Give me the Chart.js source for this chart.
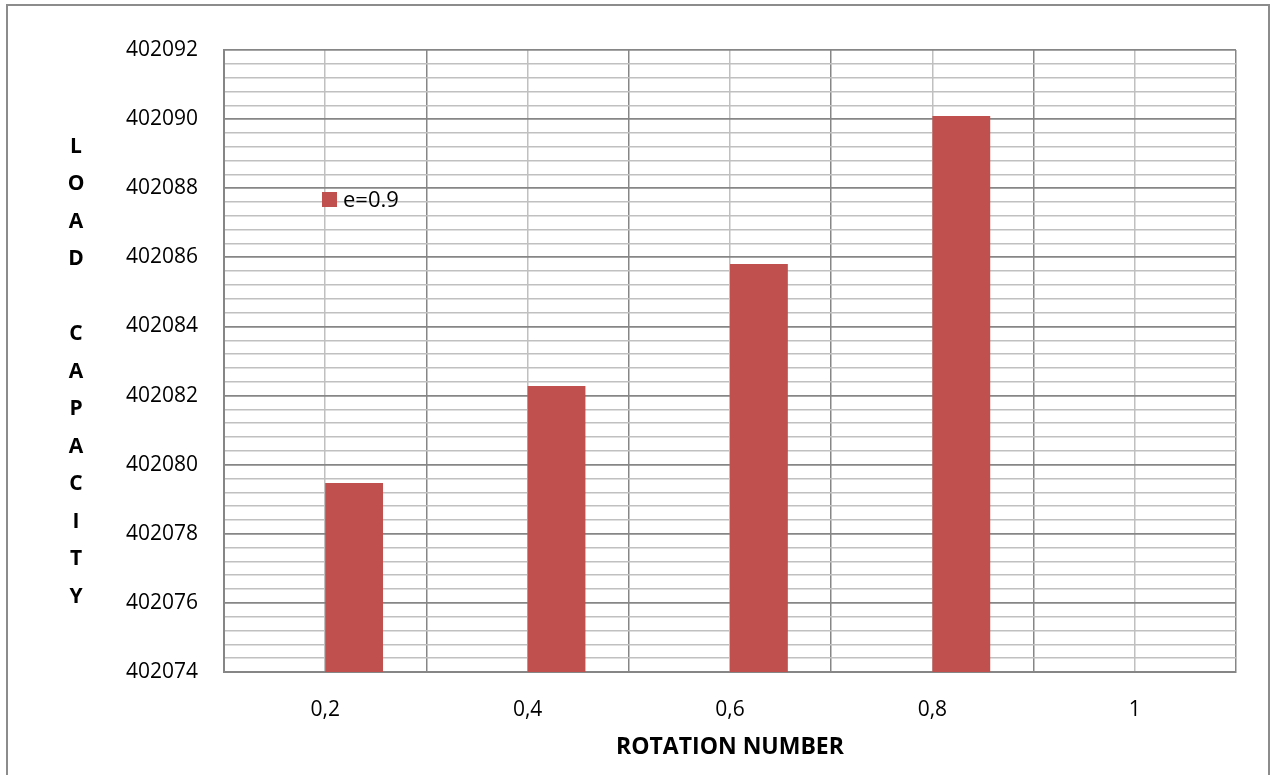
<!DOCTYPE html>
<html>
<head>
<meta charset="utf-8">
<title>Load capacity vs rotation number</title>
<script src="https://cdn.jsdelivr.net/npm/chart.js@4/dist/chart.umd.min.js"></script>
<style>
  html, body { margin: 0; padding: 0; background: #ffffff; }
  #wrap { width: 1273px; height: 775px; }
</style>
</head>
<body>
<div id="wrap"><canvas id="chart" width="1273" height="775"></canvas></div>
<script>
// Rotation numbers on the category axis
const categories = ['0,2', '0,4', '0,6', '0,8', '1'];
// Load capacity for eccentricity e = 0.9
const loadE09 = [402079.47, 402082.28, 402085.81, 402090.09, null];
// Empty first series of the cluster (keeps the e=0.9 bar on the right half)
const emptySeries = [null, null, null, null, null];
const seriesLabel = 'e=0.9';
// Value axis range and label step
const yMin = 402074;
const yMax = 402092;
const yLabelStep = 2;
const yMinorStep = 0.4;
// Axis titles
const xTitle = 'ROTATION NUMBER';
const yTitle = 'LOAD CAPACITY';

const FONT = "'Open Sans', 'Liberation Sans', sans-serif";
const MAJOR = '#868686';
const MINOR = '#c0c0c0';
const BAR = '#c0504d';

function isLabelValue(v) {
  const q = (v - yMin) / yLabelStep;
  return Math.abs(q - Math.round(q)) < 1e-6;
}

const decorations = {
  id: 'decorations',
  beforeDraw(chart) {
    const ctx = chart.ctx;
    ctx.save();
    ctx.strokeStyle = '#8c8c8c';
    ctx.lineWidth = 2;
    ctx.strokeRect(7, 5, 1262, 800);
    ctx.restore();
  },
  afterDraw(chart) {
    const ctx = chart.ctx;
    const area = chart.chartArea;
    ctx.save();
    ctx.fillStyle = '#000000';
    ctx.textAlign = 'center';
    ctx.textBaseline = 'middle';

    // x axis title
    ctx.font = "bold 23px " + FONT;
    ctx.fillText(xTitle, (area.left + area.right) / 2, 747);

    // y axis title, one letter per line
    ctx.font = "bold 21px " + FONT;
    const letters = yTitle.split('');
    letters.forEach((ch, i) => {
      if (ch !== ' ') ctx.fillText(ch, 76, 147 + i * 37.5);
    });

    // legend inside the plot area
    const ds = chart.data.datasets[1];
    const lx = area.left + 98;
    const ly = 199.5;
    ctx.fillStyle = ds.backgroundColor;
    ctx.fillRect(lx, ly - 7.5, 15, 15);
    ctx.fillStyle = '#000000';
    ctx.textAlign = 'left';
    ctx.font = "22px " + FONT;
    ctx.fillText(ds.label, lx + 21, ly + 1);
    ctx.restore();
  }
};

new Chart(document.getElementById('chart'), {
  type: 'bar',
  data: {
    labels: categories,
    datasets: [
      { label: '', data: emptySeries, backgroundColor: '#4f81bd' },
      { label: seriesLabel, data: loadE09, backgroundColor: BAR, borderWidth: 0 }
    ]
  },
  options: {
    responsive: false,
    animation: false,
    categoryPercentage: 2 / 3.5,
    barPercentage: 1,
    layout: { padding: { left: 0, top: 50, right: 37, bottom: 0 } },
    plugins: {
      legend: { display: false },
      tooltip: { enabled: false }
    },
    scales: {
      x: {
        type: 'category',
        position: 'bottom',
        offset: true,
        grid: { offset: true, color: MAJOR, lineWidth: 1.5, drawTicks: false },
        border: { display: true, color: MAJOR, width: 2 },
        ticks: {
          color: '#000000',
          font: { family: FONT, size: 21 },
          padding: 25,
          maxRotation: 0
        },
        afterFit(scale) { scale.height = 103; }
      },
      xMinor: {
        type: 'category',
        position: 'bottom',
        labels: categories,
        offset: true,
        grid: { offset: false, color: MINOR, lineWidth: 1.5, drawTicks: false },
        border: { display: false },
        ticks: { display: false },
        afterFit(scale) { scale.height = 0; }
      },
      y: {
        type: 'linear',
        min: yMin,
        max: yMax,
        grid: {
          drawTicks: false,
          color: (c) => isLabelValue(c.tick.value) ? MAJOR : MINOR,
          lineWidth: (c) => isLabelValue(c.tick.value) ? 1.75 : 1.5
        },
        border: { display: true, color: MAJOR, width: 2 },
        ticks: {
          stepSize: yMinorStep,
          autoSkip: false,
          color: '#000000',
          font: { family: FONT, size: 21 },
          padding: 26,
          callback: (v) => isLabelValue(v) ? String(Math.round(v)) : ''
        },
        afterFit(scale) { scale.width = 224; }
      }
    }
  },
  plugins: [decorations]
});
</script>
</body>
</html>
